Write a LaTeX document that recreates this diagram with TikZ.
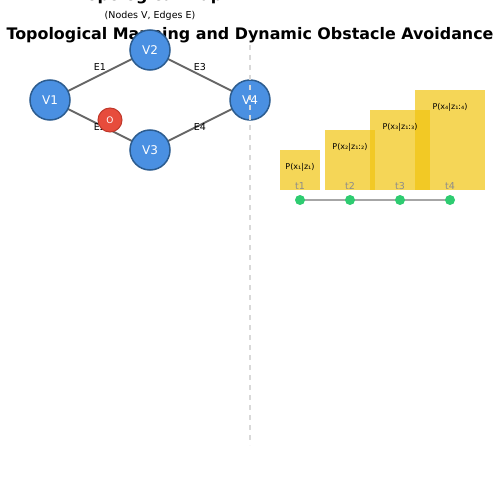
\documentclass[tikz,border=0pt]{standalone}
\usepackage{fontspec}
\setmainfont{DejaVu Sans}
\usepackage{xcolor}
\usepackage{tikz}

\definecolor{vblue}{HTML}{4A90E2}
\definecolor{vedge}{HTML}{2C5C8F}
\definecolor{obsred}{HTML}{E74C3C}
\definecolor{obsedge}{HTML}{C0392B}
\definecolor{beliefy}{HTML}{F1C40F}
\definecolor{ptgreen}{HTML}{2ECC71}

\begin{document}
\begin{tikzpicture}[x=1pt, y=-1pt, thick,
    vertex/.style={draw=vedge, line width=1.5pt, fill=vblue, circle, minimum size=40pt, inner sep=0pt, text=white, font=\fontsize{12}{12}\selectfont},
    obstacle/.style={draw=obsedge, line width=1pt, fill=obsred, circle, minimum size=24pt, inner sep=0pt, text=white, font=\fontsize{9}{9}\selectfont},
    link/.style={draw=black!60, line width=2pt},
    elabel/.style={font=\fontsize{9.5}{9.5}\selectfont},
    belief/.style={fill=beliefy, fill opacity=0.7, draw=none},
    blabel/.style={font=\fontsize{8}{8}\selectfont},
    tlabel/.style={text=black!45, font=\fontsize{9.5}{9.5}\selectfont},
    tpoint/.style={circle, fill=ptgreen, minimum size=10pt, inner sep=0pt}]
    \useasboundingbox (0,0) rectangle (500,500);

    % Titles
    \node[anchor=base] (maptitle) at (150,0.5) {\fontsize{15.9}{15.9}\selectfont\bfseries Topological Map};
    \node (mapsub) at (150,16) {\fontsize{9.5}{9.5}\selectfont (Nodes V, Edges E)};
    \node (title) at (250,35) {\fontsize{15.9}{15.9}\selectfont\bfseries Topological Mapping and Dynamic Obstacle Avoidance};

    % Edges
    \coordinate (c1) at (50,100);
    \coordinate (c2) at (150,50);
    \coordinate (c3) at (150,150);
    \coordinate (c4) at (250,100);
    \draw[link] (c1) -- (c2);
    \draw[link] (c1) -- (c3);
    \draw[link] (c2) -- (c4);
    \draw[link] (c3) -- (c4);
    \node[elabel] (e1) at (100,67) {E1};
    \node[elabel] (e2) at (100,127) {E2};
    \node[elabel] (e3) at (200,67) {E3};
    \node[elabel] (e4) at (200,127) {E4};

    % Nodes
    \node[vertex] (V1) at (c1) {V1};
    \node[vertex] (V2) at (c2) {V2};
    \node[vertex] (V3) at (c3) {V3};
    \node[vertex] (V4) at (c4) {V4};
    \node[obstacle] (O) at (110,120) {O};

    % Divider
    \coordinate (d1) at (250,45);
    \coordinate (d2) at (250,445);
    \draw[black!15, line width=1.2pt, dash pattern=on 5pt off 5pt] (d1) -- (d2);

    % Belief over time
    \fill[belief] (280,150) rectangle (320,190);
    \fill[belief] (325,130) rectangle (375,190);
    \fill[belief] (370,110) rectangle (430,190);
    \fill[belief] (415,90) rectangle (485,190);
    \node[blabel] (b1) at (300,167) {P(x₁|z₁)};
    \node[blabel] (b2) at (350,147) {P(x₂|z₁:₂)};
    \node[blabel] (b3) at (400,127) {P(x₃|z₁:₃)};
    \node[blabel] (b4) at (450,107) {P(x₄|z₁:₄)};
    \foreach \i/\x in {1/300, 2/350, 3/400, 4/450}
        \node[tlabel] (t\i) at (\x,186) {t\i};

    % Timeline
    \draw[black!35, line width=1.2pt] (300,200) -- (450,200);
    \foreach \i/\x in {1/300, 2/350, 3/400, 4/450}
        \node[tpoint] (p\i) at (\x,200) {};
\end{tikzpicture}
\end{document}
